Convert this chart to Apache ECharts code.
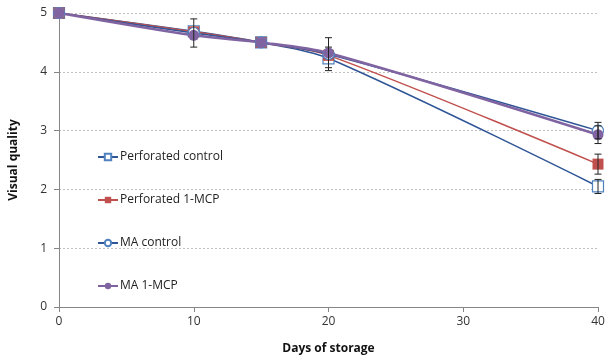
<!DOCTYPE html>
<html>
<head>
<meta charset="utf-8">
<script src="https://cdn.jsdelivr.net/npm/echarts@6/dist/echarts.min.js"></script>
<style>
  html, body { margin: 0; padding: 0; background: #fff; }
  #chart { width: 610px; height: 360px; }
</style>
</head>
<body>
<div id="chart"></div>
<script>
const days = [0, 10, 15, 20, 40]
const perfControl = [5, 4.69, 4.5, 4.23, 2.05]
const perfMcp = [5, 4.68, 4.5, 4.28, 2.43]
const maControl = [5, 4.66, 4.5, 4.3, 3.0]
const maMcp = [5, 4.62, 4.5, 4.32, 2.93]
// error bars: [day, low, high]
const errorBars = [
  [10, 4.42, 4.9],
  [20, 4.02, 4.42],
  [20, 4.07, 4.58],
  [40, 2.86, 3.14],
  [40, 2.78, 3.08],
  [40, 2.26, 2.6],
  [40, 1.93, 2.17]
]

const font = 'Open Sans'
const pair = arr => days.map((d, i) => [d, arr[i]])

const chart = echarts.init(document.getElementById('chart'))

function lineSeries(name, values, color, lineColor, symbol, filled, width, size) {
  return {
    name: name,
    type: 'line',
    data: pair(values),
    smooth: 0.3,
    symbol: symbol,
    symbolSize: size,
    z: 3,
    lineStyle: { color: lineColor, width: width },
    itemStyle: {
      color: filled ? color : '#fff',
      borderColor: color,
      borderWidth: filled ? 0 : 1.2
    }
  }
}

chart.setOption({
  animation: false,
  grid: { left: 58, right: 12, top: 13, bottom: 53 },
  legend: {
    orient: 'vertical',
    left: 92,
    top: 146,
    itemGap: 31,
    itemWidth: 20,
    itemHeight: 8,
    data: ['Perforated control', 'Perforated 1-MCP', 'MA control', 'MA 1-MCP'],
    textStyle: { fontFamily: font, fontSize: 12, color: '#222', padding: [0, 0, 0, -3] }
  },
  xAxis: {
    type: 'value',
    min: 0,
    max: 40,
    interval: 10,
    name: 'Days of storage',
    nameLocation: 'middle',
    nameGap: 36,
    nameTextStyle: { fontFamily: font, fontSize: 12, fontWeight: 'bold', color: '#111' },
    axisLine: { lineStyle: { color: '#868686' } },
    axisTick: { show: true, length: 5, lineStyle: { color: '#868686' } },
    axisLabel: { fontFamily: font, fontSize: 12, color: '#333', margin: 9 },
    splitLine: { show: false }
  },
  yAxis: {
    type: 'value',
    min: 0,
    max: 5,
    interval: 1,
    name: 'Visual quality',
    nameLocation: 'middle',
    nameGap: 39,
    nameTextStyle: { fontFamily: font, fontSize: 12, fontWeight: 'bold', color: '#111' },
    axisLine: { show: true, lineStyle: { color: '#868686' } },
    axisTick: { show: true, length: 5, lineStyle: { color: '#868686' } },
    axisLabel: { fontFamily: font, fontSize: 12, color: '#333', margin: 12 },
    splitLine: { lineStyle: { color: '#c0c0c0', type: [2, 2] } }
  },
  series: [
    lineSeries('Perforated control', perfControl, '#4f81bd', '#2f5597', 'rect', false, 1.5, 11),
    lineSeries('Perforated 1-MCP', perfMcp, '#c0504d', '#c0504d', 'rect', true, 1.5, 11),
    lineSeries('MA control', maControl, '#4f81bd', '#2f5597', 'circle', false, 1.5, 11),
    lineSeries('MA 1-MCP', maMcp, '#8064a2', '#8064a2', 'circle', true, 2.5, 11),
    {
      type: 'custom',
      name: 'error',
      z: 4,
      data: errorBars,
      renderItem: function (params, api) {
        const top = api.coord([api.value(0), api.value(2)])
        const bot = api.coord([api.value(0), api.value(1)])
        const cap = 3.5
        const style = { stroke: '#222', lineWidth: 1 }
        return {
          type: 'group',
          children: [
            { type: 'line', shape: { x1: top[0], y1: top[1], x2: bot[0], y2: bot[1] }, style: style },
            { type: 'line', shape: { x1: top[0] - cap, y1: top[1], x2: top[0] + cap, y2: top[1] }, style: style },
            { type: 'line', shape: { x1: bot[0] - cap, y1: bot[1], x2: bot[0] + cap, y2: bot[1] }, style: style }
          ]
        }
      }
    }
  ]
})
</script>
</body>
</html>
